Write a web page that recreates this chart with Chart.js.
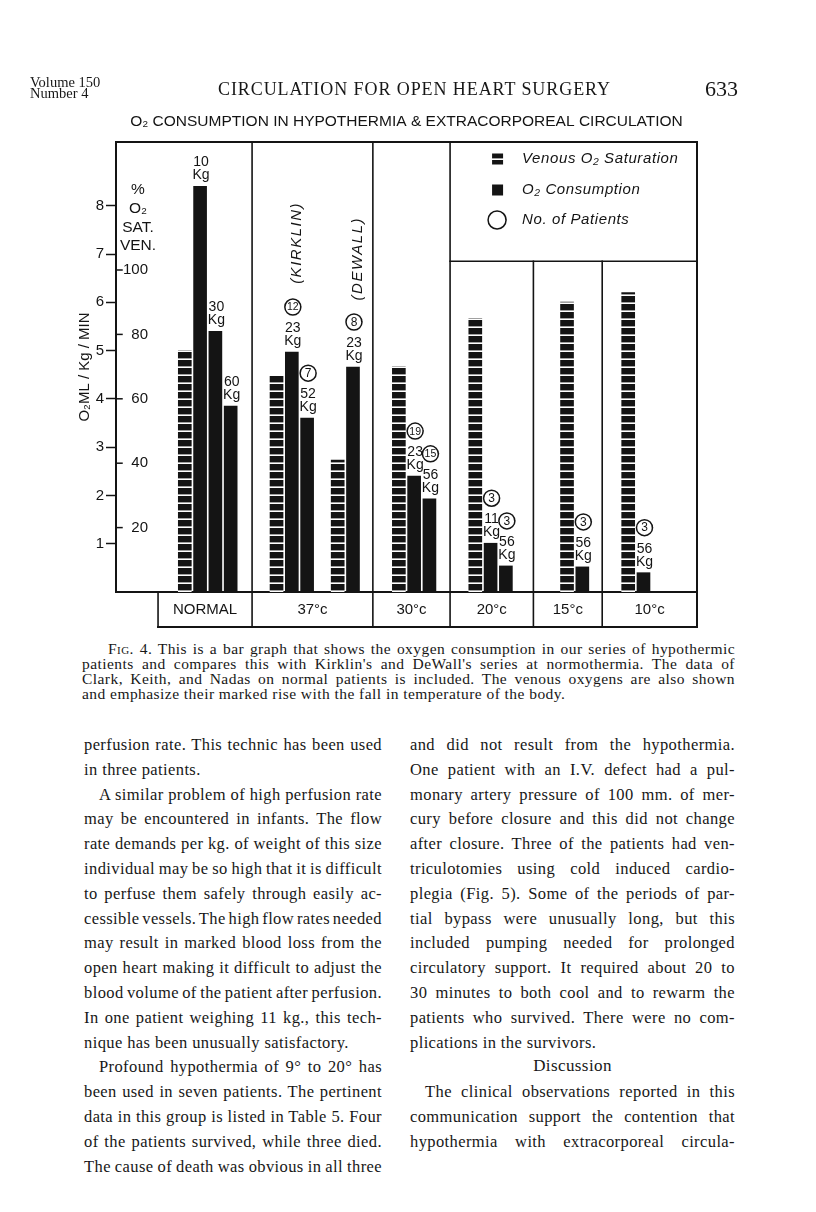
<!DOCTYPE html>
<html>
<head>
<meta charset="utf-8">
<script src="https://cdn.jsdelivr.net/npm/chart.js@4.4.1/dist/chart.umd.min.js"></script>
<style>
html,body{margin:0;padding:0;background:#fff;}
body{width:816px;height:1212px;position:relative;overflow:hidden;color:#171717;}
#chartWrap{position:absolute;left:0;top:0;width:816px;height:640px;}
.t{position:absolute;white-space:pre;font-family:"Liberation Serif","Times New Roman",serif;}
.b{font-size:16.5px;line-height:20px;letter-spacing:0.4px;}
.c{font-size:15.5px;line-height:15px;letter-spacing:0.45px;}
.sc{font-variant:small-caps;}
</style>
</head>
<body>
<div id="chartWrap"><canvas id="chart" width="816" height="640"></canvas></div>

<div class="t" style="left:30px;top:77px;font-size:14.5px;line-height:11px;">Volume 150
Number 4</div>
<div class="t" data-lw="392" style="left:218px;top:79px;font-size:18px;line-height:20px;">CIRCULATION FOR OPEN HEART SURGERY</div>
<div class="t" style="left:705px;top:77px;font-size:22px;line-height:24px;">633</div>

<div id="caption"></div>
<div id="body"></div>

<script>
// ---------------- DATA ----------------
const categories = ['NORMAL', '37°c', '30°c', '20°c', '15°c', '10°c'];
// venous O2 saturation (%), in drawing order: Normal, Kirklin, DeWall, 30°, 20°, 15°, 10°
const venousO2Sat = [75, 67, 41, 70, 85, 90, 93];
// O2 consumption (ml/kg/min), in drawing order
const o2Consumption = [8.4, 5.4, 3.85, 4.97, 3.6, 4.66, 2.4, 1.93, 1.01, 0.54, 0.52, 0.4];
const weightKg = [10, 30, 60, 23, 52, 23, 23, 56, 11, 56, 56, 56];
const patientCount = [null, null, null, 12, 7, 8, 19, 15, 3, 3, 3, 3];
const seriesSource = [null, null, null, 'KIRKLIN', null, 'DEWALL', null, null, null, null, null, null];
const consumptionTicks = [1, 2, 3, 4, 5, 6, 7, 8];
const saturationTicks = [20, 40, 60, 80, 100];
const legendLabels = ['Venous O₂ Saturation', 'O₂ Consumption', 'No. of Patients'];
const chartTitle = 'O₂ CONSUMPTION IN HYPOTHERMIA & EXTRACORPOREAL CIRCULATION';
const yTitle = 'O₂ML / Kg / MIN';
const satTitle = ['%', 'O₂', 'SAT.', 'VEN.'];

// ---------------- LAYOUT ----------------
const SLOT_PLAN = '....VCCC..VCC.VC..VCC..VCC...VC..VC...';
const GROUP_EDGES = [2.75, 8.9, 16.8, 21.85, 27.3, 31.8, 38];
const LEGEND_BOTTOM = 6.85;
const INK = '#141414';
const SANS = '"Liberation Sans", Arial, sans-serif';

const venousData = [], consData = [], consSlots = [];
let vi = 0, ci = 0;
SLOT_PLAN.split('').forEach((ch, i) => {
  venousData.push(ch === 'V' ? venousO2Sat[vi++] : null);
  if (ch === 'C') { consData.push(o2Consumption[ci++]); consSlots.push(i); }
  else consData.push(null);
});

function stripePattern() {
  const c = document.createElement('canvas'); c.width = 8; c.height = 8;
  const g = c.getContext('2d');
  g.fillStyle = INK; g.fillRect(0, 0, 8, 8);
  g.fillStyle = '#fff'; g.fillRect(0, 6.4, 8, 1.6);
  return g.createPattern(c, 'repeat');
}
const stripes = stripePattern();

function seg(ctx, x1, y1, x2, y2, w) {
  ctx.lineWidth = w; ctx.beginPath(); ctx.moveTo(x1, y1); ctx.lineTo(x2, y2); ctx.stroke();
}

const decor = {
  id: 'decor',
  afterDraw(chart) {
    const {ctx, chartArea: a, scales: {x, y, y2}} = chart;
    const px = b => x.getPixelForValue(b - 0.5);
    const rowBottom = a.bottom + 35;
    const legendY = y.getPixelForValue(LEGEND_BOTTOM);
    ctx.save();
    ctx.strokeStyle = INK; ctx.fillStyle = INK; ctx.lineCap = 'square';
    // frame
    seg(ctx, a.left, a.top, a.right, a.top, 2);
    seg(ctx, a.right, a.top, a.right, rowBottom, 2);
    // category row
    seg(ctx, px(GROUP_EDGES[0]), rowBottom, a.right, rowBottom, 2);
    seg(ctx, px(GROUP_EDGES[0]), a.bottom, px(GROUP_EDGES[0]), rowBottom, 1.6);
    GROUP_EDGES.slice(1, -1).forEach((b, i) => {
      const top = i >= 3 ? legendY : a.top;
      seg(ctx, px(b), top, px(b), rowBottom, 1.6);
    });
    seg(ctx, px(GROUP_EDGES[3]), legendY, a.right, legendY, 1.6);
    // category labels
    ctx.font = '15px ' + SANS; ctx.textAlign = 'center'; ctx.textBaseline = 'middle';
    categories.forEach((c, i) => {
      ctx.fillText(c, (px(GROUP_EDGES[i]) + px(GROUP_EDGES[i + 1])) / 2, a.bottom + 18);
    });
    // saturation axis title
    ctx.font = '15.5px ' + SANS;
    [48, 67, 86, 104].forEach((dy, i) => ctx.fillText(satTitle[i], a.left + 22, a.top + dy));
    // saturation tick marks
    saturationTicks.forEach(v => {
      const yy = y2.getPixelForValue(v);
      seg(ctx, a.left, yy, a.left + 6, yy, 1.5);
    });
    // legend
    const L = px(GROUP_EDGES[3]);
    const rows = [a.top + 17, a.top + 48, a.top + 78];
    ctx.fillStyle = stripes; ctx.fillRect(L + 42, rows[0] - 5.5, 11, 11);
    ctx.fillStyle = INK; ctx.fillRect(L + 42, rows[1] - 5.5, 11, 11);
    ctx.beginPath(); ctx.lineWidth = 1.5; ctx.arc(L + 47, rows[2], 9, 0, Math.PI * 2); ctx.stroke();
    ctx.font = 'italic 15px ' + SANS; ctx.textAlign = 'left';
    ctx.letterSpacing = '0.6px';
    legendLabels.forEach((t, i) => ctx.fillText(t, L + 72, rows[i]));
    ctx.letterSpacing = '0px';
    // bar annotations
    const meta = chart.getDatasetMeta(1);
    consSlots.forEach((slot, k) => {
      const bar = meta.data[slot];
      const bx = bar.x + 1, top = bar.y;
      ctx.fillStyle = INK; ctx.textAlign = 'center'; ctx.textBaseline = 'alphabetic';
      ctx.font = '14px ' + SANS;
      ctx.fillText(String(weightKg[k]), bx, top - 20);
      ctx.fillText('Kg', bx, top - 7);
      if (patientCount[k]) {
        const cy = top - 45;
        ctx.beginPath(); ctx.lineWidth = 1.5; ctx.arc(bx, cy, 8, 0, Math.PI * 2); ctx.stroke();
        const s = String(patientCount[k]);
        ctx.font = (s.length > 1 ? '10.5px ' : '12px ') + SANS;
        ctx.textBaseline = 'middle';
        ctx.fillText(s, bx, cy + 0.5);
      }
      if (seriesSource[k]) {
        ctx.save();
        ctx.translate(bar.x + 5, top - 150);
        ctx.rotate(-Math.PI / 2);
        ctx.font = 'italic 15px ' + SANS; ctx.letterSpacing = '1.5px';
        ctx.textAlign = 'right'; ctx.textBaseline = 'middle';
        ctx.fillText('(' + seriesSource[k] + ')', 0, 0);
        ctx.restore();
      }
    });
    ctx.restore();
  }
};

new Chart(document.getElementById('chart'), {
  type: 'bar',
  data: {
    labels: SLOT_PLAN.split('').map(() => ''),
    datasets: [
      { label: legendLabels[0], data: venousData, yAxisID: 'y2', backgroundColor: stripes, barThickness: 13, grouped: false },
      { label: legendLabels[1], data: consData, yAxisID: 'y', backgroundColor: INK, barThickness: 13, grouped: false }
    ]
  },
  options: {
    responsive: false,
    animation: false,
    events: [],
    layout: { padding: { left: 72, right: 119, top: 0, bottom: 48 } },
    plugins: {
      legend: { display: false },
      tooltip: { enabled: false },
      title: {
        display: true, text: chartTitle, fullSize: false, color: INK,
        font: { family: SANS, size: 15.5, weight: 'normal' },
        padding: { top: 112.7, bottom: 10.7 }
      }
    },
    scales: {
      x: {
        type: 'category', offset: true,
        grid: { display: false }, ticks: { display: false },
        border: { display: true, color: INK, width: 2 },
        afterFit: s => { s.height = 0; }
      },
      y: {
        type: 'linear', position: 'left', weight: 1, min: 0, max: 9.32,
        afterBuildTicks: s => { s.ticks = consumptionTicks.map(v => ({ value: v })); },
        afterFit: s => { s.width = 44; },
        ticks: { color: INK, font: { family: SANS, size: 15 }, padding: 2 },
        grid: { display: true, drawOnChartArea: false, drawTicks: true, tickLength: 10, tickWidth: 1.5, tickColor: INK },
        border: { display: true, color: INK, width: 2 },
        title: { display: true, text: yTitle, color: INK, font: { family: SANS, size: 15 }, padding: { top: 4, bottom: 0 } }
      },
      y2: {
        type: 'linear', position: 'left', weight: 0, min: 0, max: 139.75,
        afterBuildTicks: s => { s.ticks = saturationTicks.map(v => ({ value: v })); },
        afterFit: s => { s.width = 0; },
        ticks: { mirror: true, padding: 7, color: INK, font: { family: SANS, size: 15 }, callback: v => (v < 100 ? '  ' : '') + v },
        grid: { display: false, drawTicks: false },
        border: { display: false }
      }
    }
  },
  plugins: [decor]
});

// ---------------- PAGE TEXT ----------------
const captionLines = [
  ['<span class="sc">Fig.</span> 4. This is a bar graph that shows the oxygen consumption in our series of hypothermic', 108, 627],
  ["patients and compares this with Kirklin's and DeWall's series at normothermia. The data of", 82, 653],
  ['Clark, Keith, and Nadas on normal patients is included. The venous oxygens are also shown', 82, 653],
  ['and emphasize their marked rise with the fall in temperature of the body.', 82, null]
];
const leftCol = [
  ['perfusion rate. This technic has been used', 1, 0],
  ['in three patients.', 0, 0],
  ['A similar problem of high perfusion rate', 1, 1],
  ['may be encountered in infants. The flow', 1, 0],
  ['rate demands per kg. of weight of this size', 1, 0],
  ['individual may be so high that it is difficult', 1, 0],
  ['to perfuse them safely through easily ac-', 1, 0],
  ['cessible vessels. The high flow rates needed', 1, 0],
  ['may result in marked blood loss from the', 1, 0],
  ['open heart making it difficult to adjust the', 1, 0],
  ['blood volume of the patient after perfusion.', 1, 0],
  ['In one patient weighing 11 kg., this tech-', 1, 0],
  ['nique has been unusually satisfactory.', 0, 0],
  ['Profound hypothermia of 9° to 20° has', 1, 1],
  ['been used in seven patients. The pertinent', 1, 0],
  ['data in this group is listed in Table 5. Four', 1, 0],
  ['of the patients survived, while three died.', 1, 0],
  ['The cause of death was obvious in all three', 1, 0]
];
const rightCol = [
  ['and did not result from the hypothermia.', 1, 0],
  ['One patient with an I.V. defect had a pul-', 1, 0],
  ['monary artery pressure of 100 mm. of mer-', 1, 0],
  ['cury before closure and this did not change', 1, 0],
  ['after closure. Three of the patients had ven-', 1, 0],
  ['triculotomies using cold induced cardio-', 1, 0],
  ['plegia (Fig. 5). Some of the periods of par-', 1, 0],
  ['tial bypass were unusually long, but this', 1, 0],
  ['included pumping needed for prolonged', 1, 0],
  ['circulatory support. It required about 20 to', 1, 0],
  ['30 minutes to both cool and to rewarm the', 1, 0],
  ['patients who survived. There were no com-', 1, 0],
  ['plications in the survivors.', 0, 0],
  null,
  ['The clinical observations reported in this', 1, 1],
  ['communication support the contention that', 1, 0],
  ['hypothermia with extracorporeal circula-', 1, 0]
];

const cap = document.getElementById('caption');
captionLines.forEach((l, i) => {
  const d = document.createElement('div');
  d.className = 't c'; d.innerHTML = l[0];
  d.style.left = l[1] + 'px'; d.style.top = (641 + i * 15) + 'px';
  if (l[2]) d.dataset.w = l[2];
  cap.appendChild(d);
});
const body = document.getElementById('body');
function col(lines, x, w) {
  lines.forEach((l, i) => {
    if (!l) return;
    const d = document.createElement('div');
    d.className = 't b'; d.textContent = l[0];
    const ind = l[2] ? 15 : 0;
    d.style.left = (x + ind) + 'px'; d.style.top = (735 + i * 24.8) + 'px';
    if (l[1]) d.dataset.w = w - ind;
    body.appendChild(d);
  });
}
col(leftCol, 84, 298);
col(rightCol, 410, 325);
const disc = document.createElement('div');
disc.className = 't'; disc.textContent = 'Discussion';
disc.style.cssText = 'left:410px;width:325px;text-align:center;top:1056px;font-size:17px;line-height:20px;letter-spacing:0.4px;';
body.appendChild(disc);

function fit() {
  document.querySelectorAll('[data-w]').forEach(el => {
    el.style.wordSpacing = '0px';
    const w = el.getBoundingClientRect().width;
    const n = (el.textContent.match(/ /g) || []).length;
    if (n) el.style.wordSpacing = ((+el.dataset.w - w) / n) + 'px';
  });
  document.querySelectorAll('[data-lw]').forEach(el => {
    el.style.letterSpacing = '0px';
    const w = el.getBoundingClientRect().width;
    const n = el.textContent.length;
    el.style.letterSpacing = ((+el.dataset.lw - w) / (n - 1)) + 'px';
  });
}
fit();
if (document.fonts && document.fonts.ready) document.fonts.ready.then(fit);
</script>
</body>
</html>
